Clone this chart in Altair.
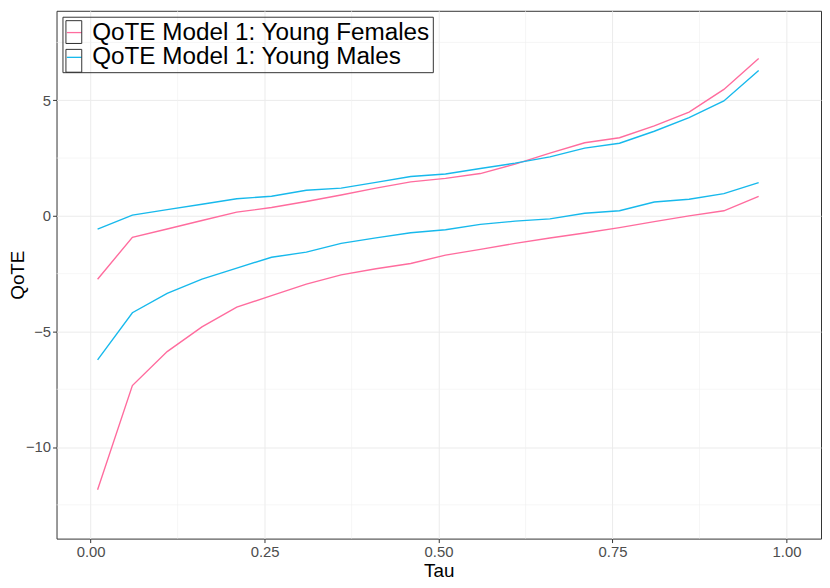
import altair as alt
import pandas as pd

tau = [0.01, 0.06, 0.11, 0.16, 0.21, 0.26, 0.31, 0.36, 0.41, 0.46,
       0.51, 0.56, 0.61, 0.66, 0.71, 0.76, 0.81, 0.86, 0.91, 0.96]
fem_upper = [-2.74, -0.93, -0.57, -0.20, 0.16, 0.36, 0.62, 0.90, 1.20, 1.47,
             1.62, 1.83, 2.24, 2.71, 3.16, 3.38, 3.89, 4.49, 5.47, 6.81]
fem_lower = [-11.85, -7.34, -5.87, -4.80, -3.95, -3.45, -2.95, -2.55, -2.29, -2.06,
             -1.70, -1.45, -1.19, -0.96, -0.74, -0.51, -0.25, 0.00, 0.22, 0.84]
male_upper = [-0.57, 0.03, 0.27, 0.50, 0.74, 0.85, 1.11, 1.20, 1.45, 1.70,
              1.81, 2.05, 2.28, 2.55, 2.93, 3.14, 3.66, 4.25, 4.97, 6.29]
male_lower = [-6.23, -4.19, -3.35, -2.74, -2.26, -1.79, -1.57, -1.19, -0.95, -0.73,
              -0.60, -0.37, -0.23, -0.13, 0.11, 0.22, 0.60, 0.72, 0.96, 1.44]

groups = ["QoTE Model 1: Young Females", "QoTE Model 1: Young Males"]
key_ids = ["F", "M"]
colors = ["#FF6C9E", "#17B9EC"]

x_ticks = [0, 0.25, 0.5, 0.75, 1.0]
y_ticks = [-10, -5, 0, 5]
x_minor = [0.125, 0.375, 0.625, 0.875]
y_minor = [-12.5, -7.5, -2.5, 2.5, 7.5]

rows = []
for vals, grp, kid, bd in [(fem_upper, groups[0], key_ids[0], "upper"),
                           (fem_lower, groups[0], key_ids[0], "lower"),
                           (male_upper, groups[1], key_ids[1], "upper"),
                           (male_lower, groups[1], key_ids[1], "lower")]:
    for t, v in zip(tau, vals):
        rows.append({"tau": t, "value": v, "group": grp, "key": kid, "bound": kid + bd})
df = pd.DataFrame(rows)

H = 533
xscale = alt.Scale(domain=[-0.049, 1.0496], nice=False, zero=False)
yscale = alt.Scale(domain=[-13.96, 8.87], nice=False, zero=False)
x_axis = alt.Axis(values=x_ticks, format=".2f", title="Tau")
y_axis = alt.Axis(values=y_ticks, format="d", title="QoTE",
                  titleX=-39, titleY=H / 2, titleBaseline="middle")

FONT = "Liberation Sans"

minor_x = alt.Chart(pd.DataFrame({"v": x_minor})).mark_rule(
    color="#F0F0F0", strokeWidth=0.6).encode(x=alt.X("v:Q", scale=xscale, axis=x_axis))
minor_y = alt.Chart(pd.DataFrame({"v": y_minor})).mark_rule(
    color="#F0F0F0", strokeWidth=0.6).encode(y=alt.Y("v:Q", scale=yscale, axis=y_axis))

box_path = "M-1,-0.96H0.33V0.96H-1Z"
line_path = "M-0.96,0H0.29"

lines = alt.Chart(df).mark_line(strokeWidth=1.4).encode(
    x=alt.X("tau:Q", scale=xscale, axis=x_axis),
    y=alt.Y("value:Q", scale=yscale, axis=y_axis),
    color=alt.Color("group:N", scale=alt.Scale(domain=groups, range=colors),
                    legend=alt.Legend(title=None, orient="none", legendX=6, legendY=6,
                                      symbolType=line_path, symbolSize=576,
                                      symbolStrokeWidth=1.3,
                                      labelFontSize=24.5, labelFont=FONT, labelColor="black",
                                      labelOffset=1, labelLimit=600,
                                      strokeColor="#333333", padding=3, rowPadding=0)),
    detail="bound:N",
)

keys = alt.Chart(df).mark_point(filled=False, opacity=0).encode(
    x=alt.X("tau:Q", scale=xscale, axis=x_axis),
    y=alt.Y("value:Q", scale=yscale, axis=y_axis),
    shape=alt.Shape("key:N", scale=alt.Scale(domain=key_ids, range=[box_path, box_path]),
                    legend=alt.Legend(title=None, orient="none", legendX=6, legendY=6,
                                      symbolSize=576, symbolStrokeWidth=1,
                                      symbolStrokeColor="#333333",
                                      symbolFillColor="transparent", symbolOpacity=1,
                                      labelFontSize=24.5, labelFont=FONT,
                                      labelExpr="''",
                                      labelOffset=1, labelLimit=600,
                                      padding=3, rowPadding=0)),
)

chart = alt.layer(minor_x, minor_y, lines, keys).properties(
    width=772, height=H,
    autosize=alt.AutoSizeParams(type="none"),
    padding={"left": 49, "top": 0, "right": 1, "bottom": 40},
).configure_view(
    stroke="#333333", strokeWidth=1
).configure_axis(
    grid=True, gridColor="#EBEBEB", gridWidth=1,
    domain=False, ticks=True, tickColor="#333333", tickSize=4, tickWidth=1,
    labelFont=FONT, labelFontSize=15, labelColor="#4D4D4D", labelPadding=2,
    titleFont=FONT, titleFontSize=19, titleFontWeight="normal", titleColor="black",
).configure_axisX(
    titlePadding=2
)

chart.save("out.html", embed_options={"renderer": "svg", "actions": False})
